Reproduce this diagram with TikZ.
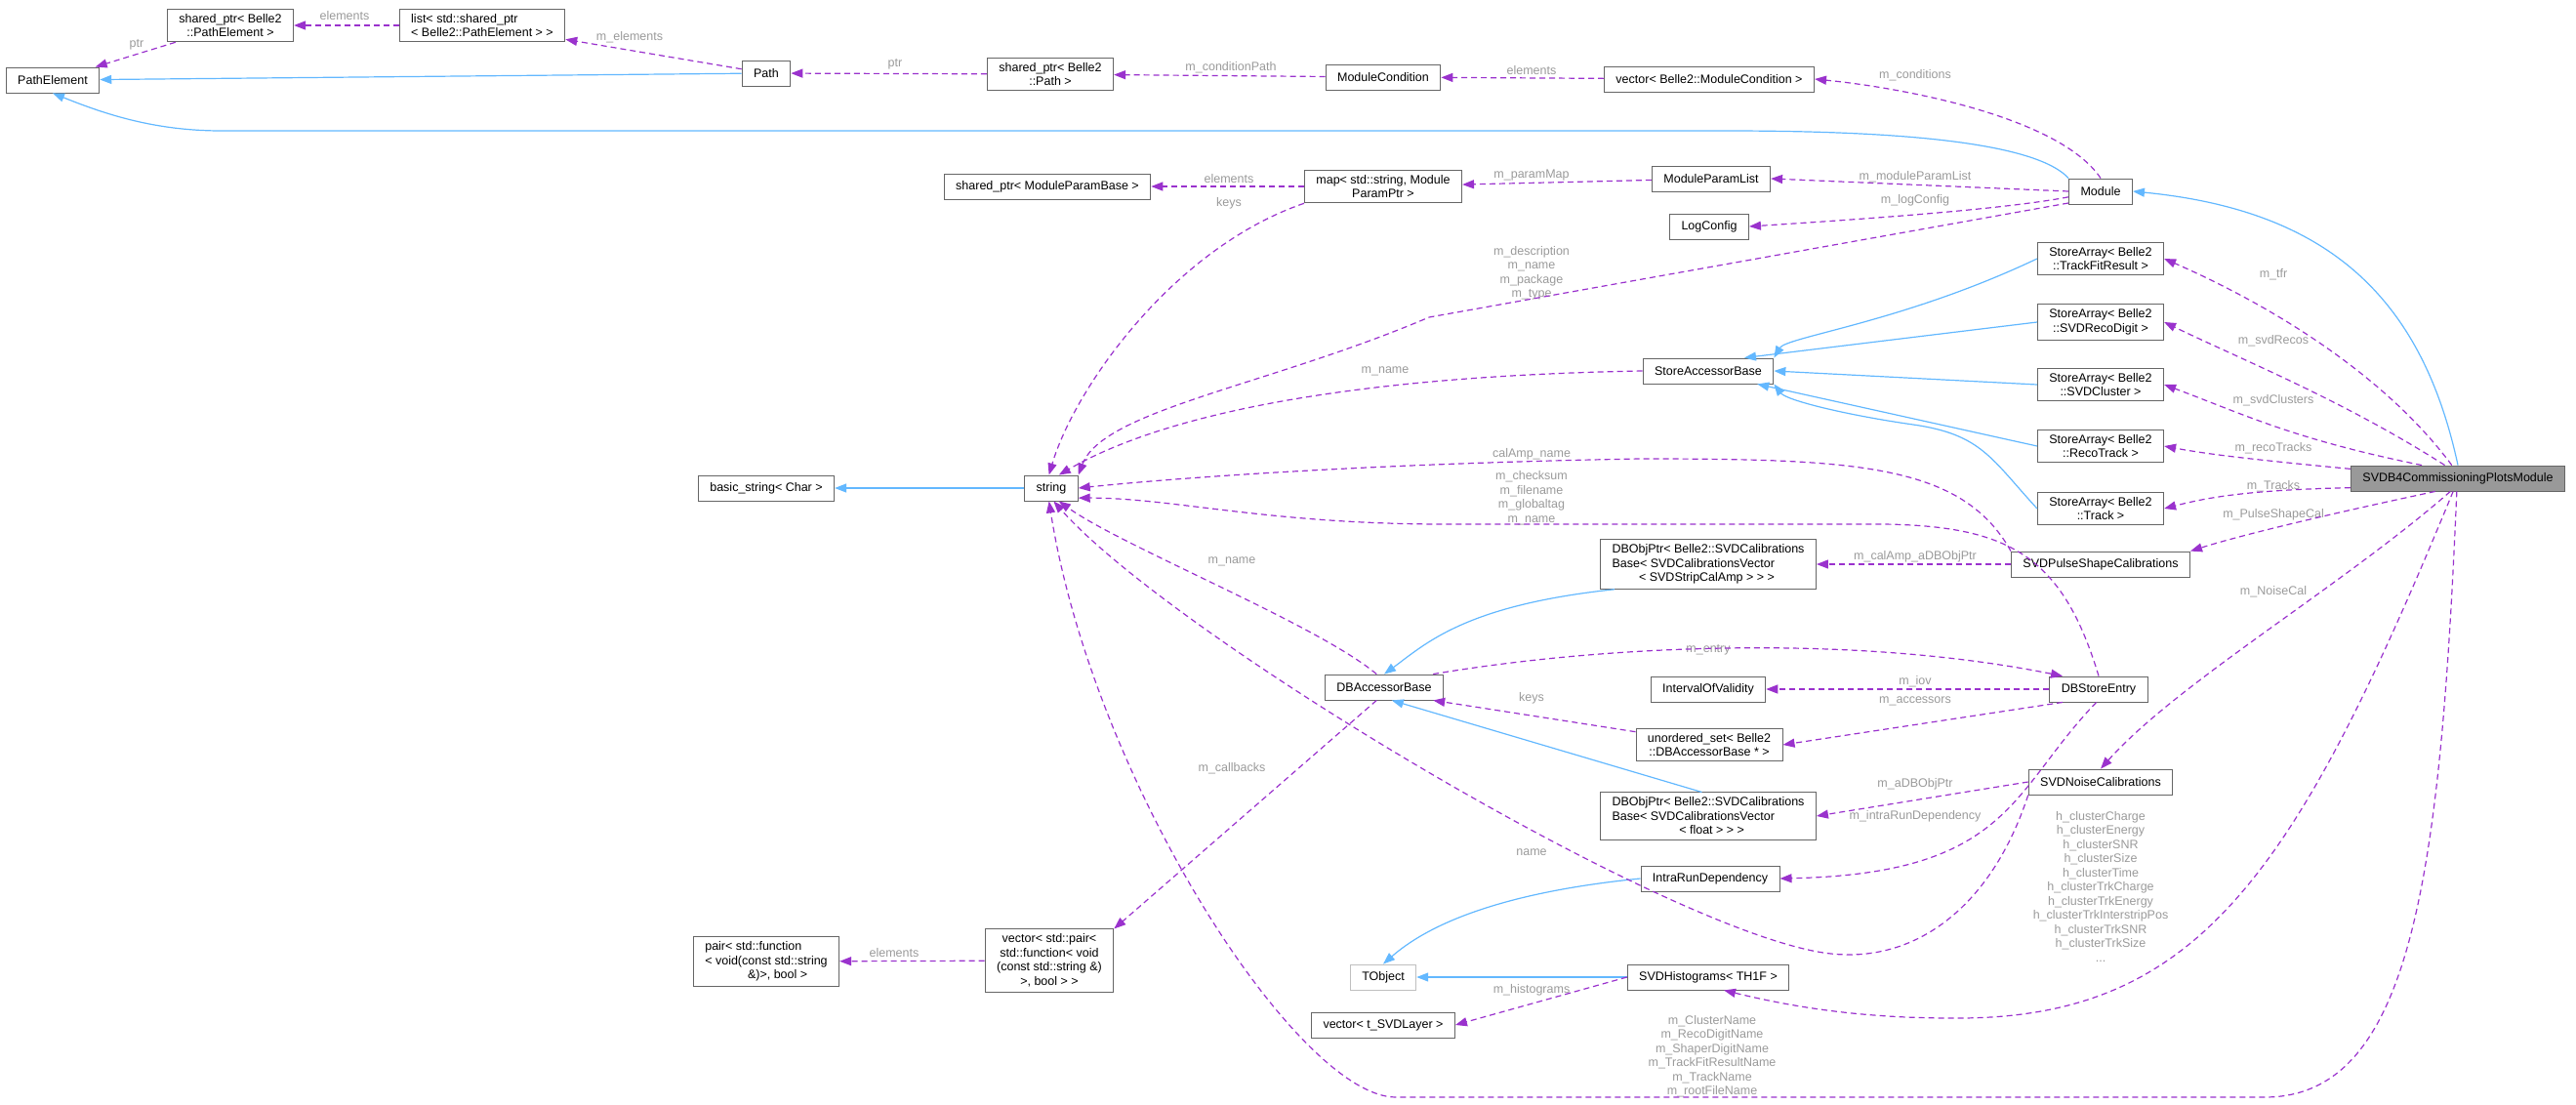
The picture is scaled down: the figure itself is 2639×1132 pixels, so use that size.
\documentclass[tikz,border=0pt]{standalone}
\usepackage{fontspec}
\setmainfont{Liberation Sans}
\usetikzlibrary{arrows.meta}
\definecolor{pur}{HTML}{9A32CD}
\definecolor{blu}{HTML}{63B8FF}
\definecolor{lbl}{HTML}{9A9A9A}
\definecolor{brd}{HTML}{666666}
\begin{document}
\begin{tikzpicture}[x=1pt,y=-1pt,
  box/.style={draw=brd,line width=0.9pt,fill=white,inner xsep=12pt,inner ysep=5pt,minimum height=26pt,font=\fontsize{12.5}{14.5}\selectfont,align=center},
  lbox/.style={box,align=left},
  lb/.style={text=lbl,font=\fontsize{12.5}{14.5}\selectfont,align=center,inner sep=1pt},
  comp/.style={draw=pur,line width=1.2pt,dash pattern=on 6pt off 4pt,-{Triangle[length=12pt,width=9pt,fill=pur]}},
  inh/.style={draw=blu,line width=1.2pt,-{Triangle[length=12pt,width=9pt,fill=blu]}}]
\useasboundingbox (0,0) rectangle (2639,1132);
% nodes
\node[box] (pe) at (54,82) {PathElement};
\node[box] (sppe) at (236,26) {shared\_ptr< Belle2\\::PathElement >};
\node[lbox] (listpe) at (494,26) {list< std::shared\_ptr\\< Belle2::PathElement > >};
\node[box] (path) at (785,75) {Path};
\node[box] (sppath) at (1076,76) {shared\_ptr< Belle2\\::Path >};
\node[box] (modcond) at (1417,79) {ModuleCondition};
\node[box] (vecmc) at (1751,81) {vector< Belle2::ModuleCondition >};
\node[box] (module) at (2152,196) {Module};
\node[box] (spmpb) at (1073,191) {shared\_ptr< ModuleParamBase >};
\node[box] (map) at (1417,191) {map< std::string, Module\\ParamPtr >};
\node[box] (mpl) at (1753,183) {ModuleParamList};
\node[box] (logc) at (1751,232) {LogConfig};
\node[box] (satfr) at (2152,265) {StoreArray< Belle2\\::TrackFitResult >};
\node[box] (sard) at (2152,330) {StoreArray< Belle2\\::SVDRecoDigit >};
\node[box] (sacl) at (2152,394) {StoreArray< Belle2\\::SVDCluster >};
\node[box] (sart) at (2152,457) {StoreArray< Belle2\\::RecoTrack >};
\node[box] (satr) at (2152,521) {StoreArray< Belle2\\::Track >};
\node[box] (sab) at (1750,380) {StoreAccessorBase};
\node[box,fill={rgb,255:red,153;green,153;blue,153}] (main) at (2518,490) {SVDB4CommissioningPlotsModule};
\node[box] (bstr) at (785,500) {basic\_string< Char >};
\node[box] (str) at (1077,500) {string};
\node[lbox] (dbamp) at (1750,578) {DBObjPtr< Belle2::SVDCalibrations\\Base< SVDCalibrationsVector\\\hspace*{2.2em}< SVDStripCalAmp > > >};
\node[box] (pulse) at (2152,578) {SVDPulseShapeCalibrations};
\node[box] (dbab) at (1418,704) {DBAccessorBase};
\node[box] (iov) at (1750,706) {IntervalOfValidity};
\node[box] (dbse) at (2150,706) {DBStoreEntry};
\node[box] (uset) at (1751,763) {unordered\_set< Belle2\\::DBAccessorBase * >};
\node[box] (noise) at (2152,801) {SVDNoiseCalibrations};
\node[lbox] (dbfl) at (1750,836) {DBObjPtr< Belle2::SVDCalibrations\\Base< SVDCalibrationsVector\\\hspace*{5.5em}< float > > >};
\node[box] (intra) at (1752,900) {IntraRunDependency};
\node[box,draw={rgb,255:red,191;green,191;blue,191}] (tobj) at (1417,1001) {TObject};
\node[box] (hist) at (1750,1001) {SVDHistograms< TH1F >};
\node[box] (vlay) at (1417,1050) {vector< t\_SVDLayer >};
\node[box] (vpair) at (1075,984) {vector< std::pair<\\std::function< void\\(const std::string \&)\\>, bool > >};
\node[lbox] (pfn) at (785,985) {pair< std::function\\< void(const std::string\\\hspace*{3.5em}\&)>, bool >};
% labels
\node[lb] (l1) at (140,46) {ptr};
\node[lb] (l2) at (353,16) {elements};
\node[lb] (l3) at (645,38) {m\_elements};
\node[lb] (l4) at (917,66) {ptr};
\node[lb] (l5) at (1261,69) {m\_conditionPath};
\node[lb] (l6) at (1569,72) {elements};
\node[lb] (l7) at (1962,77) {m\_conditions};
\node[lb] (l8) at (1259,183) {elements};
\node[lb] (l9) at (1259,208) {keys};
\node[lb] (l10) at (1569,179) {m\_paramMap};
\node[lb] (l11) at (1962,181) {m\_moduleParamList};
\node[lb] (l12) at (1962,205) {m\_logConfig};
\node[lb] (l13) at (1569,280) {m\_description\\m\_name\\m\_package\\m\_type};
\node[lb] (l14) at (1419,380) {m\_name};
\node[lb] (l15) at (2329,281) {m\_tfr};
\node[lb] (l16) at (2329,349) {m\_svdRecos};
\node[lb] (l17) at (2329,410) {m\_svdClusters};
\node[lb] (l18) at (2329,459) {m\_recoTracks};
\node[lb] (l19) at (2329,498) {m\_Tracks};
\node[lb] (l20) at (2329,527) {m\_PulseShapeCal};
\node[lb] (l21) at (2329,606) {m\_NoiseCal};
\node[lb] (l22) at (1569,465) {calAmp\_name};
\node[lb] (l23) at (1569,510) {m\_checksum\\m\_filename\\m\_globaltag\\m\_name};
\node[lb] (l24) at (1962,570) {m\_calAmp\_aDBObjPtr};
\node[lb] (l25) at (1262,575) {m\_name};
\node[lb] (l26) at (1750,666) {m\_entry};
\node[lb] (l27) at (1962,698) {m\_iov};
\node[lb] (l28) at (1962,718) {m\_accessors};
\node[lb] (l29) at (1569,715) {keys};
\node[lb] (l30) at (1262,787) {m\_callbacks};
\node[lb] (l31) at (1962,803) {m\_aDBObjPtr};
\node[lb] (l32) at (1962,836) {m\_intraRunDependency};
\node[lb] (l33) at (1569,873) {name};
\node[lb] (l34) at (2152,908) {h\_clusterCharge\\h\_clusterEnergy\\h\_clusterSNR\\h\_clusterSize\\h\_clusterTime\\h\_clusterTrkCharge\\h\_clusterTrkEnergy\\h\_clusterTrkInterstripPos\\h\_clusterTrkSNR\\h\_clusterTrkSize\\...};
\node[lb] (l35) at (916,976) {elements};
\node[lb] (l36) at (1569,1014) {m\_histograms};
\node[lb] (l37) at (1754,1082) {m\_ClusterName\\m\_RecoDigitName\\m\_ShaperDigitName\\m\_TrackFitResultName\\m\_TrackName\\m\_rootFileName};
% inheritance
\draw[inh] (path) -- (pe);
\draw[inh] (module.north west) .. controls (2080,140) and (1900,134) .. (1767,134) -- (227,134) .. controls (160,134) and (110,118) .. (pe.south);
\draw[inh] (main.north) .. controls (2480,300) and (2380,215) .. (module.east);
\draw[inh] (satfr.west) .. controls (1950,330) and (1830,345) .. (sab.north east);
\draw[inh] (sard.west) -- (sab.20);
\draw[inh] (sacl.west) -- (sab.east);
\draw[inh] (sart.west) -- (sab.-15);
\draw[inh] (satr.west) .. controls (2040,470) and (2030,445) .. (1960,435) .. controls (1890,425) and (1830,410) .. (sab.south east);
\draw[inh] (str) -- (bstr);
\draw[inh] (dbamp.-165) .. controls (1500,620) and (1460,660) .. (dbab.north);
\draw[inh] (dbfl.105) -- (dbab.-60);
\draw[inh] (intra.west) .. controls (1530,915) and (1460,950) .. (tobj.north);
\draw[inh] (hist) -- (tobj);
% composition
\draw[comp] (sppe) -- (pe);
\draw[comp] (listpe) -- (sppe);
\draw[comp] (path) -- (listpe);
\draw[comp] (sppath) -- (path);
\draw[comp] (modcond) -- (sppath);
\draw[comp] (vecmc) -- (modcond);
\draw[comp] (module.north) .. controls (2110,120) and (1950,90) .. (vecmc.east);
\draw[comp] (map) -- (spmpb);
\draw[comp] (mpl) -- (map);
\draw[comp] (module.west) -- (mpl.east);
\draw[comp] (module.-170) .. controls (2050,215) and (1900,225) .. (logc.east);
\draw[comp] (module.-160) -- (1464,325) .. controls (1300,395) and (1130,420) .. (str.north east);
\draw[comp] (map.south west) .. controls (1200,255) and (1100,400) .. (str.100);
\draw[comp] (sab.west) .. controls (1400,385) and (1200,420) .. (str.60);
\draw[comp] (main.-175) .. controls (2300,502) and (2260,510) .. (satr.east);
\draw[comp] (main.175) .. controls (2300,470) and (2260,465) .. (sart.east);
\draw[comp] (main.160) .. controls (2350,450) and (2300,425) .. (sacl.east);
\draw[comp] (main.135) .. controls (2400,410) and (2300,370) .. (sard.east);
\draw[comp] (main.115) .. controls (2440,380) and (2320,310) .. (satfr.east);
\draw[comp] (main.-150) .. controls (2370,530) and (2290,550) .. (pulse.north east);
\draw[comp] (main.-120) .. controls (2400,600) and (2230,700) .. (noise.north);
\draw[comp] (pulse.north west) .. controls (2010,475) and (1900,470) .. (1680,470) .. controls (1400,475) and (1200,490) .. (str.east);
\draw[comp] (dbse.north) .. controls (2110,560) and (2050,535) .. (1900,537) -- (1480,537) .. controls (1300,537) and (1200,510) .. (str.-20);
\draw[comp] (pulse.west) -- (dbamp.east);
\draw[comp] (dbab.120) .. controls (1350,640) and (1150,560) .. (str.-60);
\draw[comp] (dbab.15) .. controls (1650,660) and (1900,650) .. (dbse.160);
\draw[comp] (dbse.west) -- (iov.east);
\draw[comp] (dbse.-160) -- (uset.east);
\draw[comp] (uset.170) -- (dbab.-15);
\draw[comp] (dbab.-120) -- (vpair.north east);
\draw[comp] (vpair) -- (pfn);
\draw[comp] (noise.west) -- (dbfl.east);
\draw[comp] (dbse.-100) .. controls (2060,810) and (2060,895) .. (intra.east);
\draw[comp] (noise.south west) .. controls (2040,930) and (1960,990) .. (1868,976) .. controls (1700,950) and (1200,650) .. (str.-80);
\draw[comp] (hist.west) -- (vlay.east);
\draw[comp] (main.-110) .. controls (2350,900) and (2250,1045) .. (2000,1043) .. controls (1900,1043) and (1830,1030) .. (hist.-40);
\draw[comp] (main.-95) .. controls (2500,900) and (2470,1124) .. (2320,1124) -- (1430,1124) .. controls (1330,1124) and (1120,800) .. (str.-100);
\end{tikzpicture}
\end{document}
